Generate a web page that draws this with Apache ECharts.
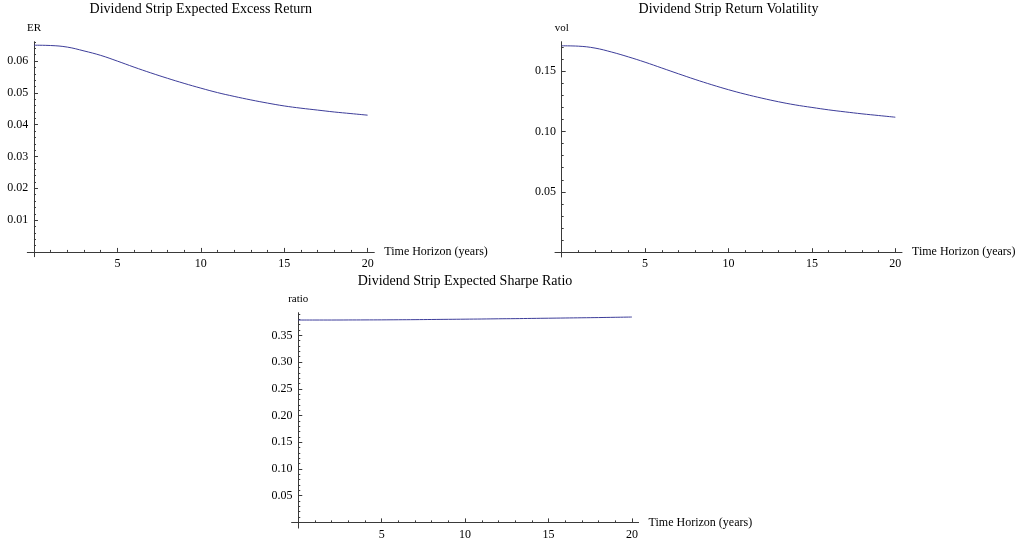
<!DOCTYPE html>
<html>
<head>
<meta charset="utf-8">
<script src="https://cdn.jsdelivr.net/npm/echarts@6/dist/echarts.min.js"></script>
<style>
  html, body { margin: 0; padding: 0; background: #ffffff; }
  #chart { width: 1018px; height: 546px; }
</style>
</head>
<body>
<div id="chart"></div>
<script>
// ---- data ----
const horizon = [0,1,2,3,4,5,6,7,8,9,10,11,12,13,14,15,16,17,18,19,20];
const excessReturn = [0.0650,0.0649,0.0644,0.0632,0.0618,0.0600,0.0581,0.0563,0.0546,0.0530,0.0515,
                      0.0501,0.0489,0.0478,0.0468,0.0459,0.0452,0.0446,0.0440,0.0435,0.0430];
const volatility = [0.1711,0.1708,0.1692,0.1659,0.1619,0.1575,0.1527,0.1479,0.1432,0.1388,0.1347,
                    0.1310,0.1277,0.1247,0.1221,0.1200,0.1180,0.1163,0.1147,0.1133,0.1119];
const sharpeRatio = [0.3787,0.3787,0.3787,0.3788,0.3789,0.3790,0.3792,0.3794,0.3797,0.3800,0.3803,
                     0.3806,0.3810,0.3813,0.3817,0.3821,0.3825,0.3829,0.3833,0.3838,0.3843];

// ---- text ----
const titles = ['Dividend Strip Expected Excess Return', 'Dividend Strip Return Volatility', 'Dividend Strip Expected Sharpe Ratio'];
const yNames = ['ER', 'vol', 'ratio'];
const xName = 'Time Horizon (years)';

// ---- tick values ----
const xMajorTicks = [5, 10, 15, 20];
const erMajorTicks = [0.01, 0.02, 0.03, 0.04, 0.05, 0.06];
const volMajorTicks = [0.05, 0.10, 0.15];
const ratioMajorTicks = [0.05, 0.10, 0.15, 0.20, 0.25, 0.30, 0.35];

function minorTicks(step, count, majorEvery) {
  const out = [];
  for (let i = 1; i <= count; i++) {
    if (i % majorEvery !== 0) out.push(+(i * step).toFixed(4));
  }
  return out;
}
const xMinorTicks = minorTicks(1, 20, 5);
const erMinorTicks = minorTicks(0.002, 33, 5);
const volMinorTicks = minorTicks(0.01, 17, 5);
const ratioMinorTicks = minorTicks(0.01, 39, 5);

// ---- layout ----
const FONT = 'Liberation Serif, Times New Roman, serif';
const AXIS_COLOR = '#3a3a3a';
const LINE_COLOR = '#3d3d9a';

const panels = [
  { grid: { left: 27.3, top: 41.7, width: 347, height: 215 }, yMin: -0.0015, yMax: 0.0661,
    yMajor: erMajorTicks, yMinor: erMinorTicks, data: excessReturn, titleX: 200.8, titleTop: 2 },
  { grid: { left: 555, top: 41.7, width: 347, height: 215.3 }, yMin: -0.004, yMax: 0.1745,
    yMajor: volMajorTicks, yMinor: volMinorTicks, data: volatility, titleX: 728.5, titleTop: 2 },
  { grid: { left: 291.6, top: 312.7, width: 347, height: 215.4 }, yMin: -0.0107, yMax: 0.3924,
    yMajor: ratioMajorTicks, yMinor: ratioMinorTicks, data: sharpeRatio, titleX: 465, titleTop: 274 }
];

const option = {
  backgroundColor: '#ffffff',
  animation: false,
  title: [], grid: [], xAxis: [], yAxis: [], series: []
};

panels.forEach((p, i) => {
  option.title.push({
    text: titles[i], left: p.titleX, top: p.titleTop, textAlign: 'center', padding: 0,
    textStyle: { fontFamily: FONT, fontSize: 14, fontWeight: 'normal', color: '#000' }
  });
  option.grid.push(Object.assign({ containLabel: false, outerBoundsMode: 'none' }, p.grid));
  const xi = i * 2, yi = i * 2;
  // major x axis
  option.xAxis.push({
    type: 'value', gridIndex: i, position: 'bottom', min: -0.4, max: 20.4,
    name: xName, nameLocation: 'end', nameGap: 10, nameMoveOverlap: false,
    nameTextStyle: { fontFamily: FONT, fontSize: 12, color: '#000', align: 'left', verticalAlign: 'middle' },
    axisLine: { show: true, onZero: true, onZeroAxisIndex: yi, lineStyle: { color: AXIS_COLOR, width: 1 } },
    axisTick: { show: true, inside: true, length: 4, customValues: xMajorTicks, lineStyle: { color: AXIS_COLOR } },
    axisLabel: { show: true, customValues: xMajorTicks, margin: 1, fontFamily: FONT, fontSize: 12, color: '#000',
                 formatter: v => String(v) },
    splitLine: { show: false }, minorTick: { show: false }
  });
  // minor x axis
  option.xAxis.push({
    type: 'value', gridIndex: i, position: 'bottom', min: -0.4, max: 20.4,
    axisLine: { show: false, onZero: true, onZeroAxisIndex: yi },
    axisTick: { show: true, inside: true, length: 2, customValues: xMinorTicks, lineStyle: { color: AXIS_COLOR } },
    axisLabel: { show: false }, splitLine: { show: false }
  });
  // major y axis
  option.yAxis.push({
    type: 'value', gridIndex: i, position: 'left', min: p.yMin, max: p.yMax,
    name: yNames[i], nameLocation: 'end', nameGap: 8, nameMoveOverlap: false,
    nameTextStyle: { fontFamily: FONT, fontSize: 11, color: '#000', align: 'center', verticalAlign: 'bottom' },
    axisLine: { show: true, onZero: true, onZeroAxisIndex: xi, lineStyle: { color: AXIS_COLOR, width: 1 } },
    axisTick: { show: true, inside: true, length: 4, customValues: p.yMajor, lineStyle: { color: AXIS_COLOR } },
    axisLabel: { show: true, customValues: p.yMajor, margin: -1, fontFamily: FONT, fontSize: 12, color: '#000',
                 formatter: v => v.toFixed(2) },
    splitLine: { show: false }
  });
  // minor y axis
  option.yAxis.push({
    type: 'value', gridIndex: i, position: 'left', min: p.yMin, max: p.yMax,
    axisLine: { show: false, onZero: true, onZeroAxisIndex: xi },
    axisTick: { show: true, inside: true, length: 2, customValues: p.yMinor, lineStyle: { color: AXIS_COLOR } },
    axisLabel: { show: false }, splitLine: { show: false }
  });
  option.series.push({
    type: 'line', xAxisIndex: xi, yAxisIndex: yi,
    data: horizon.map((h, k) => [h, p.data[k]]),
    showSymbol: false, smooth: 0.4,
    lineStyle: { color: LINE_COLOR, width: 1 }, itemStyle: { color: LINE_COLOR },
    silent: true
  });
});

const chart = echarts.init(document.getElementById('chart'), null, { renderer: 'canvas' });
chart.setOption(option);
</script>
</body>
</html>
